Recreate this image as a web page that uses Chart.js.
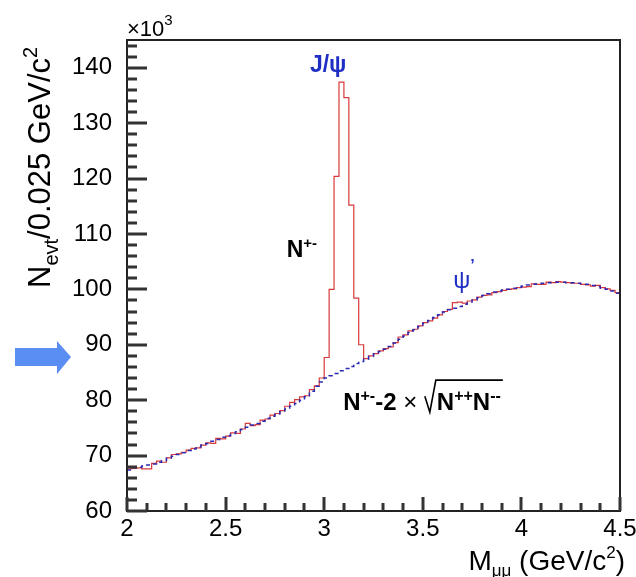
<!DOCTYPE html>
<html>
<head>
<meta charset="utf-8">
<script src="https://cdn.jsdelivr.net/npm/chart.js@4/dist/chart.umd.min.js"></script>
<style>
  body { margin: 0; background: #fff; }
  #wrap { width: 636px; height: 577px; }
</style>
</head>
<body>
<div id="wrap"><canvas id="massChart" width="636" height="577"></canvas></div>
<script>
// histogram binning (GeV/c^2)
const binLow = 2.0;
const binWidth = 0.025;

// N+- per bin, x10^3
const nUnlike = [
  67.6, 67.7, 67.8, 67.6, 67.6, 68.6, 69.0, 68.8, 69.6, 70.2,
  70.3, 70.6, 71.0, 71.3, 71.4, 71.9, 72.3, 72.2, 73.1, 73.0,
  73.5, 74.1, 74.0, 74.8, 75.8, 75.4, 75.6, 76.4, 76.6, 77.3,
  77.6, 78.1, 78.9, 79.6, 80.1, 80.6, 80.8, 81.9, 82.6, 84.0,
  87.7, 100.0, 120.4, 137.4, 134.6, 115.2, 98.4, 90.0, 87.5, 88.0,
  88.4, 88.9, 89.3, 89.6, 90.4, 91.4, 91.8, 92.5, 92.8, 93.4,
  94.0, 94.3, 94.8, 95.4, 96.0, 96.4, 97.6, 97.7, 97.5, 97.9,
  98.1, 98.6, 98.9, 99.0, 99.4, 99.6, 99.8, 100.0, 100.1, 100.3,
  100.4, 100.5, 101.0, 100.9, 100.9, 101.3, 101.2, 101.4, 101.3, 101.2,
  101.1, 101.1, 100.9, 100.8, 100.6, 100.7, 100.3, 100.1, 99.8, 99.4
];

// N+- - 2*sqrt(N++ N--) per bin, x10^3
const nLike = [
  67.4, 67.8, 67.9, 68.1, 68.3, 68.5, 68.8, 69.1, 69.5, 69.9,
  70.2, 70.5, 70.9, 71.2, 71.6, 71.9, 72.2, 72.6, 72.9, 73.3,
  73.6, 74.0, 74.3, 74.7, 75.1, 75.5, 75.8, 76.2, 76.7, 77.1,
  77.5, 77.9, 78.4, 78.9, 79.4, 80.0, 80.6, 81.6, 82.5, 83.3,
  84.0, 84.4, 84.8, 85.3, 85.7, 86.1, 86.6, 87.0, 87.4, 87.9,
  88.4, 88.8, 89.2, 89.7, 90.3, 91.0, 91.6, 92.2, 92.7, 93.3,
  93.9, 94.4, 94.9, 95.4, 95.9, 96.3, 96.6, 96.9, 97.3, 97.7,
  98.1, 98.5, 98.9, 99.2, 99.5, 99.7, 99.9, 100.0, 100.2, 100.4,
  100.6, 100.8, 100.9, 101.0, 101.1, 101.2, 101.3, 101.3, 101.3, 101.2,
  101.2, 101.1, 101.0, 100.9, 100.7, 100.5, 100.2, 100.0, 99.7, 99.3
];

// axis ranges and tick steps
const xRange = [2, 4.5];
const yRange = [60, 145];
const xMajor = 0.5;
const yMajor = 10;

// tick positions along each axis (minor + major)
const yTickVals = [];
for (let v = 60; v <= 144; v += 2) yTickVals.push(v);
const xTickVals = [];
for (let k = 0; k <= 25; k++) xTickVals.push(Math.round((2 + k * 0.1) * 10) / 10);

const FONT = '"Liberation Sans", Arial, Helvetica, sans-serif';

// bin edges -> points, last edge repeats last bin so the step closes
function toSteps(vals) {
  const pts = vals.map((v, i) => ({ x: binLow + i * binWidth, y: v }));
  pts.push({ x: binLow + vals.length * binWidth, y: vals[vals.length - 1] });
  return pts;
}

// draws text pieces one after another: [text, font, dy]
function drawRich(ctx, parts, x, y, align) {
  let w = 0;
  parts.forEach(p => { ctx.font = p[1]; w += ctx.measureText(p[0]).width; });
  let cx = align === 'right' ? x - w : align === 'center' ? x - w / 2 : x;
  parts.forEach(p => {
    ctx.font = p[1];
    ctx.fillText(p[0], cx, y + (p[2] || 0));
    cx += ctx.measureText(p[0]).width;
  });
  return cx;
}

const isMult = (v, m) => Math.abs(v / m - Math.round(v / m)) < 1e-6;

const rootStyle = {
  id: 'rootStyle',
  afterDraw(chart) {
    const ctx = chart.ctx;
    const a = chart.chartArea;
    const sx = chart.scales.x, sy = chart.scales.y;
    const L = Math.round(a.left), R = Math.round(a.right);
    const T = Math.round(a.top), B = Math.round(a.bottom);
    ctx.save();
    ctx.setLineDash([]);
    ctx.fillStyle = '#222';

    // frame
    ctx.fillRect(L - 1, T - 1, R - L + 2, 2);
    ctx.fillRect(L - 1, B - 1, R - L + 2, 2);
    ctx.fillRect(L - 1, T - 1, 2, B - T + 2);
    ctx.fillRect(R - 1, T - 1, 2, B - T + 2);

    // inward ticks
    yTickVals.forEach(v => {
      const len = isMult(v, yMajor) ? 20 : 10;
      const py = Math.round(sy.getPixelForValue(v));
      ctx.fillStyle = '#333';
      ctx.fillRect(L, py - 1.5, len, 3);
    });
    xTickVals.forEach(v => {
      const len = isMult(v, xMajor) ? 14 : 8;
      const px = Math.round(sx.getPixelForValue(v));
      ctx.fillStyle = '#333';
      ctx.fillRect(px - 1.5, B - len, 3, len);
    });

    ctx.textBaseline = 'alphabetic';
    ctx.textAlign = 'left';
    ctx.fillStyle = '#000';

    // x10^3
    drawRich(ctx, [['\u00d710', '22px ' + FONT], ['3', '15px ' + FONT, -11]], a.left, a.top - 4, 'left');

    // x title
    drawRich(ctx, [
      ['M', '28px ' + FONT], ['\u03bc\u03bc', '17px ' + FONT, 6],
      [' (GeV/c', '28px ' + FONT], ['2', '17px ' + FONT, -12], [')', '28px ' + FONT]
    ], 625, 570, 'right');

    // y title (rotated)
    ctx.save();
    ctx.translate(50, 288);
    ctx.rotate(-Math.PI / 2);
    drawRich(ctx, [
      ['N', '31px ' + FONT], ['evt', '20px ' + FONT, 8],
      ['/0.025 GeV/c', '31px ' + FONT], ['2', '20px ' + FONT, -13]
    ], 0, 0, 'left');
    ctx.restore();

    // peak labels
    ctx.fillStyle = '#1f2fc4';
    drawRich(ctx, [['J/\u03c8', 'bold 23px ' + FONT]], sx.getPixelForValue(3.02), sy.getPixelForValue(139.2), 'center');
    drawRich(ctx, [['\u03c8', '24px ' + FONT]], sx.getPixelForValue(3.655), sy.getPixelForValue(100.3), 'left');
    drawRich(ctx, [['\u2019', 'bold 16px ' + FONT]], sx.getPixelForValue(3.74), sy.getPixelForValue(103.3), 'left');

    ctx.fillStyle = '#000';
    drawRich(ctx, [['N', 'bold 23px ' + FONT], ['+-', 'bold 15px ' + FONT, -9]],
      sx.getPixelForValue(2.81), sy.getPixelForValue(105.8), 'left');

    // N+- - 2 x sqrt(N++ N--)
    ctx.strokeStyle = '#000';
    const bx = sx.getPixelForValue(3.096), by = sy.getPixelForValue(78.2);
    let cx = drawRich(ctx, [
      ['N', 'bold 24px ' + FONT], ['+-', 'bold 16px ' + FONT, -9],
      ['-2', 'bold 24px ' + FONT], [' \u00d7 ', '24px ' + FONT]
    ], bx, by, 'left');
    const top = by - 30;
    ctx.lineWidth = 1.6;
    ctx.beginPath();
    ctx.moveTo(cx + 1, by - 14);
    ctx.lineTo(cx + 6, by + 2);
    ctx.lineTo(cx + 12, top);
    cx = drawRich(ctx, [
      ['N', 'bold 24px ' + FONT], ['++', 'bold 16px ' + FONT, -9],
      ['N', 'bold 24px ' + FONT], ['--', 'bold 16px ' + FONT, -9]
    ], cx + 13, by, 'left');
    ctx.lineTo(cx + 2, top);
    ctx.stroke();

    // blue arrow at the left
    ctx.fillStyle = '#5b8ef2';
    ctx.beginPath();
    ctx.moveTo(15, 348); ctx.lineTo(57, 348); ctx.lineTo(57, 341);
    ctx.lineTo(71, 357); ctx.lineTo(57, 374); ctx.lineTo(57, 366);
    ctx.lineTo(15, 366); ctx.closePath();
    ctx.fill();

    ctx.restore();
  }
};

new Chart(document.getElementById('massChart').getContext('2d'), {
  type: 'line',
  data: {
    datasets: [{
      label: 'N+- - 2 sqrt(N++ N--)',
      data: toSteps(nLike),
      borderColor: '#2a2ab4',
      borderWidth: 1.5,
      borderDash: [4, 4],
      stepped: true,
      pointRadius: 0,
      fill: false
    }, {
      label: 'N+-',
      data: toSteps(nUnlike),
      borderColor: '#d83a3a',
      borderWidth: 1.2,
      stepped: true,
      pointRadius: 0,
      fill: false
    }]
  },
  options: {
    responsive: false,
    animation: false,
    devicePixelRatio: 1,
    layout: { padding: { top: 40, right: 16, left: 0, bottom: 0 } },
    plugins: { legend: { display: false }, tooltip: { enabled: false } },
    scales: {
      x: {
        type: 'linear',
        min: xRange[0],
        max: xRange[1],
        afterFit(s) { s.height = 66; },
        grid: { display: false },
        border: { display: false },
        ticks: {
          stepSize: xMajor,
          autoSkip: false,
          maxRotation: 0,
          padding: -4,
          color: '#000',
          font: { family: FONT, size: 24 },
          callback: v => String(Math.round(v * 10) / 10)
        }
      },
      y: {
        min: yRange[0],
        max: yRange[1],
        afterFit(s) { s.width = 127; },
        grid: { display: false },
        border: { display: false },
        ticks: {
          stepSize: yMajor,
          autoSkip: false,
          padding: 7,
          color: '#000',
          font: { family: FONT, size: 24 },
          callback: v => isMult(v, yMajor) ? String(v) : ''
        }
      }
    }
  },
  plugins: [rootStyle]
});
</script>
</body>
</html>
